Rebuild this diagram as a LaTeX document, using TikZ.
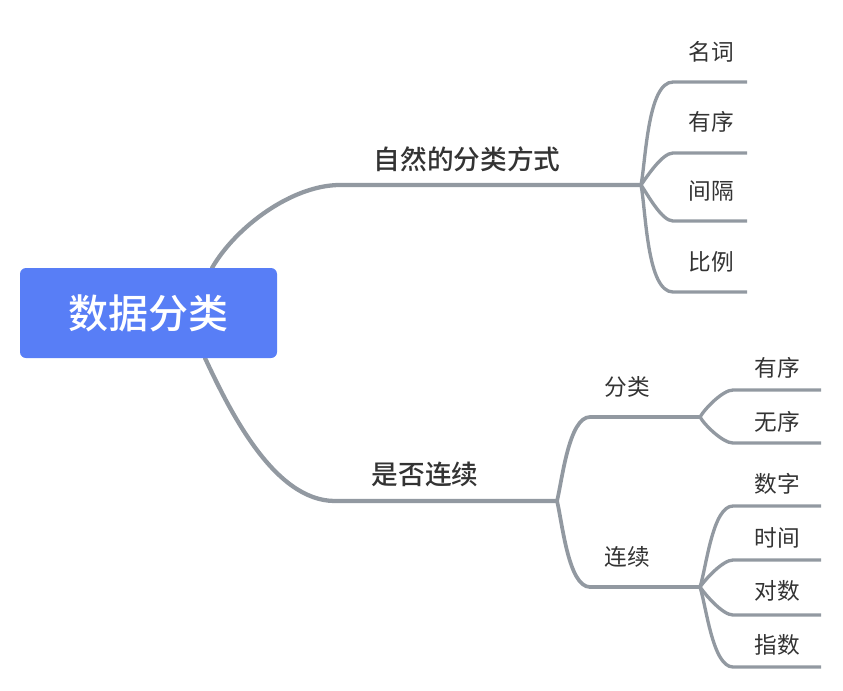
\documentclass[tikz,border=0pt]{standalone}
\usepackage{fontspec}
\setmainfont{Noto Sans CJK SC}
\newfontfamily\cjkmed{Noto Sans CJK SC}[UprightFont=* Medium]
\definecolor{rootblue}{RGB}{88,126,246}
\definecolor{linegray}{RGB}{146,153,161}
\definecolor{txt}{RGB}{51,51,51}
\tikzset{
  mainline/.style={draw=linegray, line width=3.2pt, line cap=round},
  subline/.style={draw=linegray, line width=2.8pt},
  leafline/.style={draw=linegray, line width=2.5pt},
  lvone/.style={text=txt, font=\fontsize{20}{24}\selectfont\cjkmed, inner sep=0pt},
  lvtwo/.style={text=txt, font=\fontsize{17}{20}\selectfont, inner sep=0pt},
  cvf/.style={out=#1, in=180, looseness=0.6},
}
\begin{document}
\begin{tikzpicture}[x=0.75pt,y=-0.75pt]
\useasboundingbox (0,0) rectangle (843,690);
% coordinates
\coordinate (r1) at (212,268);
\coordinate (r2) at (205,358);
\coordinate (a1) at (340,185);
\coordinate (j1) at (641,185);
\coordinate (a2) at (335,501);
\coordinate (j2) at (557,501);
% level 1 connectors
\draw[mainline] (r1) to[out=60,in=180,looseness=0.8] (a1) -- (j1);
\draw[mainline] (r2) to[out=-65,in=180,looseness=0.8] (a2) -- (j2);
% upper leaves
\foreach \n/\y/\o in {ua/82/79, ub/153/55, uc/221/-55, ud/292/-79}{
  \coordinate (\n s) at (673,\y);
  \coordinate (\n e) at (747,\y);
  \draw[leafline] (j1) to[cvf=\o] (\n s) -- (\n e);
}
% lower level 2
\coordinate (bs) at (590,417); \coordinate (j3) at (700,417);
\coordinate (cs) at (590,587); \coordinate (j4) at (700,587);
\draw[subline] (j2) to[cvf=76] (bs) -- (j3);
\draw[subline] (j2) to[cvf=-76] (cs) -- (j4);
\foreach \n/\y/\o in {ba/390/60, bb/443/-60}{
  \coordinate (\n s) at (733,\y);
  \coordinate (\n e) at (821,\y);
  \draw[leafline] (j3) to[cvf=\o] (\n s) -- (\n e);
}
\foreach \n/\y/\o in {ca/506/72, cb/560/55, cc/615/-55, cd/667/-72}{
  \coordinate (\n s) at (733,\y);
  \coordinate (\n e) at (821,\y);
  \draw[leafline] (j4) to[cvf=\o] (\n s) -- (\n e);
}
% root
\node[fill=rootblue, rounded corners=4.5pt, minimum width=257*0.75pt, minimum height=90*0.75pt, inner sep=0pt,
  text=white, font=\fontsize{30}{34}\selectfont\cjkmed] (root) at (148.5,313) {数据分类};
% labels
\node[lvone] (n1) at (467,159) {自然的分类方式};
\node[lvone] (n2) at (425,474) {是否连续};
\node[lvtwo] (t1) at (711,52) {名词};
\node[lvtwo] (t2) at (711,122) {有序};
\node[lvtwo] (t3) at (711,191) {间隔};
\node[lvtwo] (t4) at (711,262) {比例};
\node[lvtwo] (s1) at (627,387) {分类};
\node[lvtwo] (s2) at (627,557) {连续};
\node[lvtwo] (b1) at (777,368) {有序};
\node[lvtwo] (b2) at (777,422) {无序};
\node[lvtwo] (c1) at (777,484) {数字};
\node[lvtwo] (c2) at (777,538) {时间};
\node[lvtwo] (c3) at (777,591) {对数};
\node[lvtwo] (c4) at (777,645) {指数};
\end{tikzpicture}
\end{document}
